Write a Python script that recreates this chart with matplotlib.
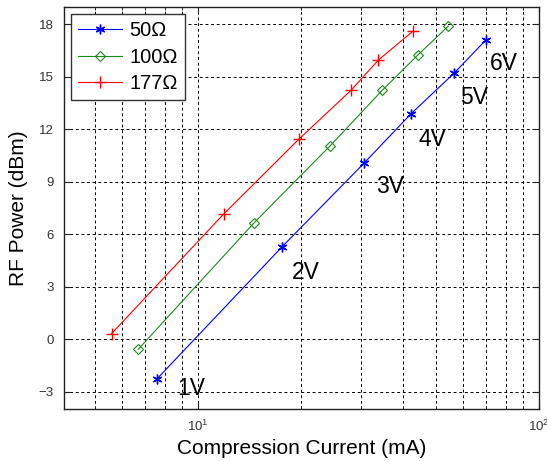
import matplotlib
matplotlib.use("Agg")
import matplotlib.pyplot as plt
from matplotlib.ticker import LogLocator, NullFormatter

plt.rcParams['font.family'] = ['Liberation Sans', 'DejaVu Sans']

# ---- data ----
series_names = ["50\u03a9", "100\u03a9", "177\u03a9"]
current_50 = [7.60, 17.6, 30.7, 42.0, 56.3, 69.8]
power_50 = [-2.26, 5.25, 10.06, 12.85, 15.19, 17.09]
current_100 = [6.68, 14.6, 24.4, 34.7, 44.1, 54.2]
power_100 = [-0.59, 6.64, 11.04, 14.22, 16.23, 17.89]
current_177 = [5.58, 11.9, 19.8, 28.1, 33.8, 42.8]
power_177 = [0.31, 7.15, 11.44, 14.22, 15.95, 17.62]
voltage_labels = ["1V", "2V", "3V", "4V", "5V", "6V"]
y_ticks = [-3, 0, 3, 6, 9, 12, 15, 18]

# label offsets (pixels) relative to 50-ohm points
label_offsets = [(34, -16), (24, -32), (26, -30), (22, -32), (20, -31), (18.5, -30)]

fig = plt.figure(figsize=(5.47, 4.61), dpi=100)
ax = fig.add_axes([63.7 / 547, 52 / 461, (539 - 63.7) / 547, (409 - 6.7) / 461])

ax.set_xscale('log')
ax.set_xlim(4.04, 100)
ax.set_ylim(-4, 19)

ax.plot(current_50, power_50, color='#0000ff', lw=0.8, marker=(6, 2, 0),
        markersize=7, markeredgewidth=1.0, label=series_names[0])
ax.plot(current_100, power_100, color='#1a8a1a', lw=0.8, marker='D',
        markersize=4.8, markerfacecolor='none', markeredgewidth=0.8, label=series_names[1])
ax.plot(current_177, power_177, color='#ff0000', lw=0.8, marker='+',
        markersize=8, markeredgewidth=1.0, label=series_names[2])

for xv, yv, lab, (dx, dy) in zip(current_50, power_50, voltage_labels, label_offsets):
    ax.annotate(lab, (xv, yv), xytext=(dx, dy), textcoords='offset pixels',
                ha='center', va='baseline', fontsize=16.5, color='black')

ax.set_yticks(y_ticks)
ax.xaxis.set_major_locator(LogLocator(base=10, numticks=10))
ax.xaxis.set_minor_locator(LogLocator(base=10, subs=[2, 3, 4, 5, 6, 7, 8, 9], numticks=10))
ax.xaxis.set_minor_formatter(NullFormatter())

dash = (0, (3, 2.8))
ax.grid(True, which='major', axis='both', color='black', linestyle=dash, linewidth=0.7)
ax.grid(True, which='minor', axis='x', color='black', linestyle=dash, linewidth=0.7)

ax.tick_params(which='both', direction='in', top=True, right=True, labelsize=9.5,
               colors='#222222', labelcolor='#333333')
ax.tick_params(which='major', length=4, width=0.8, pad=7)
ax.tick_params(which='minor', length=2.5, width=0.7)
for s in ax.spines.values():
    s.set_color('#222222')
    s.set_linewidth(1.0)

ax.set_xlabel('Compression Current (mA)', fontsize=15, labelpad=4)
ax.set_ylabel('RF Power (dBm)', fontsize=15, labelpad=8)

leg = ax.legend(loc='upper left', bbox_to_anchor=(0.0154, 0.981), borderaxespad=0,
                fontsize=14.5, handlelength=2.2, handletextpad=0.35, labelspacing=0.36,
                borderpad=0.35, fancybox=False, framealpha=1, edgecolor='#333333')
leg.get_frame().set_linewidth(1.0)

fig.savefig('out.png', dpi=100)
